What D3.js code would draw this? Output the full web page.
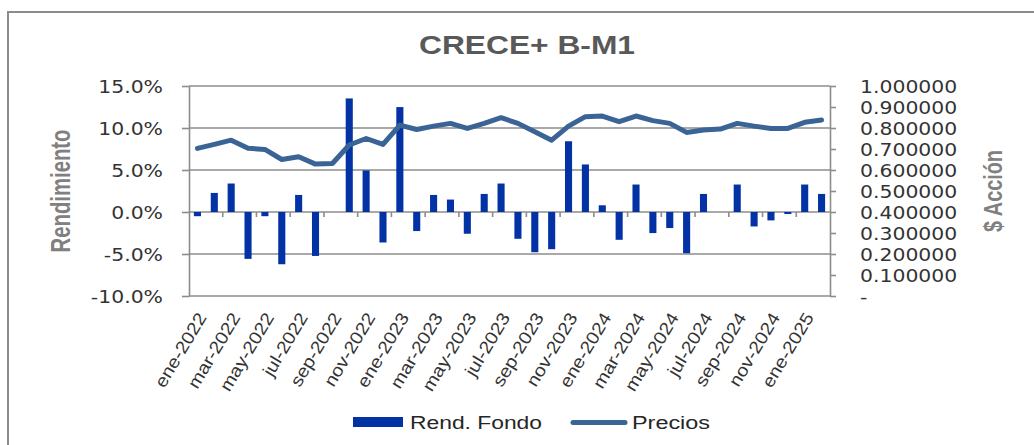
<!DOCTYPE html>
<html>
<head>
<meta charset="utf-8">
<script src="https://cdn.jsdelivr.net/npm/d3@7"></script>
<style>
  body { margin: 0; background: #fff; }
  svg { display: block; }
</style>
</head>
<body>
<script>
// data
var meses = ["ene-2022","feb-2022","mar-2022","abr-2022","may-2022","jun-2022","jul-2022","ago-2022",
  "sep-2022","oct-2022","nov-2022","dic-2022","ene-2023","feb-2023","mar-2023","abr-2023","may-2023",
  "jun-2023","jul-2023","ago-2023","sep-2023","oct-2023","nov-2023","dic-2023","ene-2024","feb-2024",
  "mar-2024","abr-2024","may-2024","jun-2024","jul-2024","ago-2024","sep-2024","oct-2024","nov-2024",
  "dic-2024","ene-2025","feb-2025"];

// Rend. Fondo (%)
var rendFondo = [-0.5, 2.27, 3.39, -5.58, -0.5, -6.22, 2.03, -5.23, 0, 13.52, 4.95, -3.63, 12.49, -2.27,
  2.03, 1.48, -2.59, 2.15, 3.39, -3.19, -4.79, -4.43, 8.42, 5.66, 0.8, -3.31, 3.27, -2.51, -1.91, -4.91,
  2.15, 0, 3.27, -1.72, -1.0, -0.24, 3.27, 2.15];

// Precios ($ Accion)
var precios = [0.703, 0.722, 0.742, 0.703, 0.698, 0.650, 0.663, 0.628, 0.631, 0.719, 0.750, 0.722,
  0.814, 0.793, 0.809, 0.822, 0.798, 0.822, 0.849, 0.822, 0.782, 0.742, 0.809, 0.854, 0.857, 0.830,
  0.857, 0.835, 0.822, 0.779, 0.790, 0.795, 0.822, 0.809, 0.798, 0.798, 0.827, 0.838];

var ticksIzq = [-0.10, -0.05, 0, 0.05, 0.10, 0.15];
var ticksDer = [0, 0.1, 0.2, 0.3, 0.4, 0.5, 0.6, 0.7, 0.8, 0.9, 1.0];

var W = 1034, H = 445;
var plot = {left: 189, right: 830, top: 86, bottom: 296};
var gris = "#8c8c8c";

var svg = d3.select("body").append("svg")
    .attr("width", W).attr("height", H);

// outer border
svg.append("rect")
    .attr("x", 8).attr("y", 12)
    .attr("width", W + 20).attr("height", H + 20)
    .attr("fill", "#fff").attr("stroke", gris).attr("stroke-width", 2);

// scales
var x = d3.scaleBand().domain(meses).range([plot.left, plot.right]).padding(0);
var yL = d3.scaleLinear().domain([-0.10, 0.15]).range([plot.bottom, plot.top]);
var yR = d3.scaleLinear().domain([0, 1]).range([plot.bottom, plot.top]);

// gridlines
svg.append("g").selectAll("line")
    .data(ticksIzq).enter().append("line")
    .attr("x1", plot.left).attr("x2", plot.right)
    .attr("y1", function(d){ return yL(d); })
    .attr("y2", function(d){ return yL(d); })
    .attr("stroke", gris).attr("stroke-width", 1.6);

// left axis
var axL = svg.append("g")
    .attr("transform", "translate(" + plot.left + ",0)")
    .call(d3.axisLeft(yL).tickValues(ticksIzq).tickSize(7).tickSizeOuter(0)
        .tickFormat(function(d){ return (d * 100).toFixed(1) + "%"; }));
axL.select(".domain").attr("stroke", gris).attr("stroke-width", 1.6);
axL.selectAll(".tick line").attr("stroke", gris).attr("stroke-width", 1.6);
axL.selectAll(".tick text")
    .attr("x", 0).attr("dy", "0.36em")
    .attr("transform", "translate(-26,0) scale(1.2,1)")
    .style("font-family", "'DejaVu Sans', sans-serif")
    .style("font-size", "17px").attr("fill", "#333");

// right axis
var axR = svg.append("g")
    .attr("transform", "translate(" + plot.right + ",0)")
    .call(d3.axisRight(yR).tickValues(ticksDer).tickSize(6).tickSizeOuter(0)
        .tickFormat(function(d){ return d === 0 ? "-" : d.toFixed(6); }));
axR.select(".domain").attr("stroke", gris).attr("stroke-width", 1.6);
axR.selectAll(".tick line").attr("stroke", gris).attr("stroke-width", 1.6);
axR.selectAll(".tick text")
    .attr("x", 0).attr("dy", "0.36em")
    .attr("transform", "translate(30,0) scale(1.2,1)")
    .style("font-family", "'DejaVu Sans', sans-serif")
    .style("font-size", "17px").attr("fill", "#333");

// category tick marks on the zero line (every 2 months)
var paso = x.step();
var marcas = meses.filter(function(d, i){ return i > 0 && i % 2 === 0; });
svg.append("g").selectAll("line")
    .data(marcas).enter().append("line")
    .attr("x1", function(d){ return x(d); })
    .attr("x2", function(d){ return x(d); })
    .attr("y1", yL(0)).attr("y2", yL(0) + 5)
    .attr("stroke", gris).attr("stroke-width", 1.6);

// bars
var anchoBarra = paso * 0.42;
svg.append("g").selectAll("rect")
    .data(rendFondo).enter().append("rect")
    .attr("x", function(d, i){ return x(meses[i]) + (paso - anchoBarra) / 2; })
    .attr("y", function(d){ return yL(Math.max(0, d / 100)); })
    .attr("width", anchoBarra)
    .attr("height", function(d){ return Math.abs(yL(d / 100) - yL(0)); })
    .attr("fill", "#0332a4");

// price line
var linea = d3.line()
    .x(function(d, i){ return x(meses[i]) + paso / 2; })
    .y(function(d){ return yR(d); });
svg.append("path")
    .datum(precios)
    .attr("d", linea)
    .attr("fill", "none")
    .attr("stroke", "#3b6496")
    .attr("stroke-width", 5)
    .attr("stroke-linejoin", "round")
    .attr("stroke-linecap", "round");

// x labels
svg.append("g").selectAll("text")
    .data(meses.filter(function(d, i){ return i % 2 === 0; }))
    .enter().append("text")
    .attr("transform", function(d){
        return "translate(" + (x(d) + paso / 2 + 4) + ",314) rotate(-59) scale(1.13,1)";
    })
    .attr("text-anchor", "end")
    .attr("dy", "0.38em")
    .style("font-family", "'Liberation Sans', Arial, sans-serif")
    .style("font-size", "17.5px")
    .attr("fill", "#333")
    .text(function(d){ return d; });

// title
svg.append("text")
    .attr("x", 527).attr("y", 54)
    .attr("text-anchor", "middle")
    .attr("textLength", 216).attr("lengthAdjust", "spacingAndGlyphs")
    .style("font-family", "'Liberation Sans Narrow', 'Liberation Sans', sans-serif")
    .style("font-weight", "bold").style("font-size", "26px")
    .attr("fill", "#595959")
    .text("CRECE+  B-M1");

// axis titles
svg.append("text")
    .attr("transform", "translate(70,191) rotate(-90)")
    .attr("text-anchor", "middle")
    .attr("textLength", 123).attr("lengthAdjust", "spacingAndGlyphs")
    .style("font-family", "'Liberation Sans Narrow', 'Liberation Sans', sans-serif")
    .style("font-weight", "bold").style("font-size", "28px")
    .attr("fill", "#808080")
    .text("Rendimiento");

svg.append("text")
    .attr("transform", "translate(1002,191) rotate(-90)")
    .attr("text-anchor", "middle")
    .attr("textLength", 82).attr("lengthAdjust", "spacingAndGlyphs")
    .style("font-family", "'Liberation Sans Narrow', 'Liberation Sans', sans-serif")
    .style("font-weight", "bold").style("font-size", "26px")
    .attr("fill", "#808080")
    .text("$ Acción");

// legend
var leg = svg.append("g");
leg.append("rect")
    .attr("x", 353).attr("y", 417).attr("width", 50).attr("height", 10)
    .attr("fill", "#0332a4");
leg.append("text")
    .attr("x", 410).attr("y", 429)
    .attr("textLength", 132).attr("lengthAdjust", "spacingAndGlyphs")
    .style("font-family", "'Liberation Sans', Arial, sans-serif")
    .style("font-size", "18px").attr("fill", "#262626")
    .text("Rend. Fondo");
leg.append("line")
    .attr("x1", 573).attr("x2", 625).attr("y1", 422.5).attr("y2", 422.5)
    .attr("stroke", "#3b6496").attr("stroke-width", 5).attr("stroke-linecap", "round");
leg.append("text")
    .attr("x", 632).attr("y", 429)
    .attr("textLength", 78).attr("lengthAdjust", "spacingAndGlyphs")
    .style("font-family", "'Liberation Sans', Arial, sans-serif")
    .style("font-size", "18px").attr("fill", "#262626")
    .text("Precios");
</script>
</body>
</html>
